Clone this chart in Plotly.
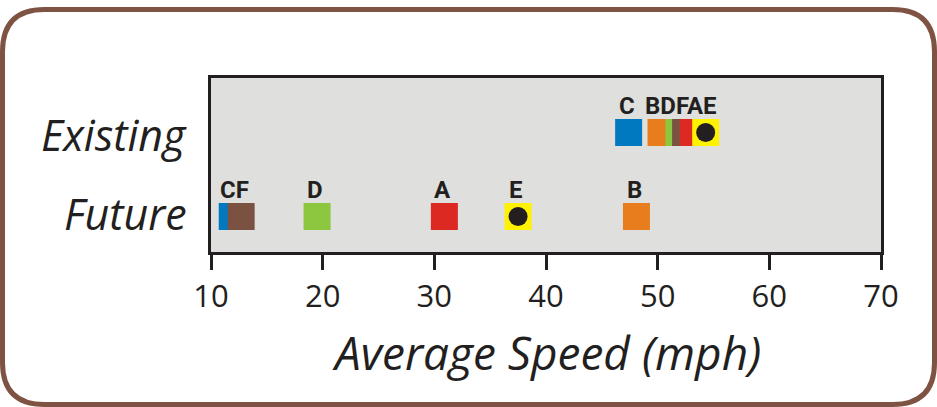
import plotly.graph_objects as go

# ---- data ----
projects = ["A", "B", "C", "D", "E", "F"]
existing_speed = [53.2, 50.3, 47.4, 51.9, 54.3, 52.5]
future_speed = [30.9, 48.1, 11.9, 19.5, 37.5, 12.7]
project_colors = ["#DC2A22", "#E87D1E", "#0079C1", "#8DC63F", "#FFF200", "#7B5242"]
row_labels = ["Existing", "Future"]
highlight_project = "E"
x_ticks = [10, 20, 30, 40, 50, 60, 70]

W, H = 937, 407
L, R, T, B = 211, 56, 78, 155
PW, PH = W - L - R, H - T - B
SQ = 27  # square size px
x_min, x_max = 10, 70
mph_per_px = (x_max - x_min) / PW

row_y = {"Existing": 1, "Future": 0}
rows = {"Existing": existing_speed, "Future": future_speed}
label_shift = {"Existing": -2, "Future": 3}

fig = go.Figure()
annotations = []
for row in row_labels:
    vals = rows[row]
    order = sorted(range(len(projects)), key=lambda i: vals[i])
    fig.add_trace(go.Scatter(
        x=[vals[i] for i in order], y=[row_y[row]] * len(order),
        mode="markers",
        marker=dict(symbol="square", size=SQ, color=[project_colors[i] for i in order],
                    line=dict(width=0)),
        hoverinfo="text", text=[projects[i] for i in order], showlegend=False))
    hi = projects.index(highlight_project)
    fig.add_trace(go.Scatter(
        x=[vals[hi]], y=[row_y[row]], mode="markers",
        marker=dict(symbol="circle", size=19, color="#231F20", line=dict(width=0)),
        showlegend=False, hoverinfo="skip"))
    # group overlapping squares for labels
    groups = []
    for i in order:
        if groups and vals[i] - vals[groups[-1][-1]] < SQ * mph_per_px:
            groups[-1].append(i)
        else:
            groups.append([i])
    for g in groups:
        cx = (vals[g[0]] + vals[g[-1]]) / 2
        annotations.append(dict(
            x=cx, y=row_y[row], xref="x", yref="y", yshift=27, xshift=-2,
            text="".join(projects[i] for i in g), showarrow=False,
            font=dict(family="Roboto", size=24, color="#231F20", weight="bold"),
            xanchor="center", yanchor="middle"))
    annotations.append(dict(
        x=(189 - L) / PW, y=row_y[row], xref="paper", yref="y", yshift=label_shift[row],
        text=row, showarrow=False, xanchor="right", yanchor="middle",
        font=dict(family="Open Sans", size=43, color="#231F20", style="italic")))

annotations.append(dict(
    x=0.5, y=(T + PH - 352) / PH, xref="paper", yref="paper",
    text="Average Speed (mph)", showarrow=False, xanchor="center", yanchor="middle",
    font=dict(family="Open Sans", size=46, color="#231F20", style="italic")))

def px(xp):
    return (xp - L) / PW

def py(yp):
    return 1 - (yp - T) / PH

x0, x1, y0, y1, r = 2.5, 934.5, 9.5, 404.5, 42
path = (f"M {px(x0 + r)},{py(y0)} L {px(x1 - r)},{py(y0)} "
        f"Q {px(x1)},{py(y0)} {px(x1)},{py(y0 + r)} L {px(x1)},{py(y1 - r)} "
        f"Q {px(x1)},{py(y1)} {px(x1 - r)},{py(y1)} L {px(x0 + r)},{py(y1)} "
        f"Q {px(x0)},{py(y1)} {px(x0)},{py(y1 - r)} L {px(x0)},{py(y0 + r)} "
        f"Q {px(x0)},{py(y0)} {px(x0 + r)},{py(y0)} Z")

fig.update_layout(
    width=W, height=H,
    margin=dict(l=L, r=R, t=T, b=B, pad=0),
    paper_bgcolor="white", plot_bgcolor="#DFDFDD",
    annotations=annotations,
    shapes=[dict(type="path", path=path, xref="paper", yref="paper",
                 line=dict(color="#7F5343", width=5), layer="below")],
    xaxis=dict(range=[x_min, x_max], tickvals=x_ticks, ticks="outside", ticklen=15,
               tickwidth=3, tickcolor="#231F20", showgrid=False, zeroline=False,
               showline=True, linecolor="#231F20", linewidth=3, mirror=True,
               tickfont=dict(family="Open Sans", size=31, color="#231F20")),
    yaxis=dict(range=[-35.5 / 84, 1 + 54.5 / 84], showticklabels=False, showgrid=False,
               zeroline=False, showline=True, linecolor="#231F20", linewidth=3, mirror=True,
               ticks=""),
)
fig.write_html("out.html", config={"displayModeBar": False, "staticPlot": True},
               post_script="document.body.style.margin='0';document.body.style.overflow='hidden';")
